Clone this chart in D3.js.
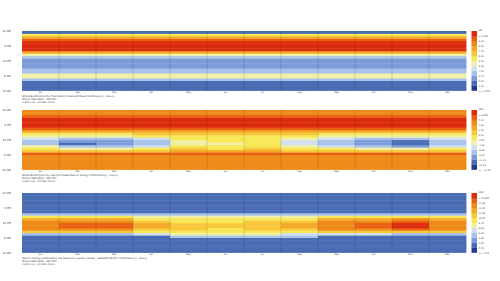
<!DOCTYPE html>
<html>
<head>
<meta charset="utf-8">
<script src="https://cdn.jsdelivr.net/npm/d3@7"></script>
<style>
    body { margin: 0; background: #fff; }
    svg text { font-family: "DejaVu Sans", sans-serif; fill: #444; }
</style>
</head>
<body>
<div id="chart"></div>
<script>

// Categories / ticks
const months = ["Jan", "Feb", "Mar", "Apr", "May", "Jun", "Jul", "Aug", "Sep", "Oct", "Nov", "Dec"]
const hourTicks = [0, 6, 12, 18, 24]
const hourTickLabels = ["12 AM", "6 AM", "12 PM", "6 PM", "12 AM"]

// Colour bins, low -> high
const palette = ["#26388a", "#4a6cb4", "#7b9bd9", "#a8c2ea", "#d0e0f2", "#f0f0a8",
                 "#f8e858", "#f8c83a", "#f4a828", "#ee8a18", "#ea5e12", "#dc2a0c"]

// Panel 1: facility demand [kW], hour 0..23 (same profile every month)
const demandByHour = [2.1, 2.0, 2.0, 2.2, 3.8, 5.4, 5.3, 3.7, 3.6, 3.0, 2.9, 2.9,
                      3.0, 3.8, 5.3, 7.8, 10.1, 10.3, 10.4, 10.2, 9.3, 7.7, 6.2, 2.3]
const demandRange = [0.95, 10.55]
const demandLegend = ["> 9.750", "9.35", "8.55", "7.75", "6.95", "6.15", "5.35", "4.55", "3.75", "2.95", "2.15", "<= 1.750"]

// Panel 2: net purchased electricity [kWh], one row per month, hour 0..23
const netByMonth = [
    [4.6, 4.5, 4.4, 4.5, 4.7, 5.2, 6.8, 0.4, -1.8, -4.2, -8.8, -9.1, -6.5, -4.0, -1.5, 2.7, 7.1, 9.4, 9.9, 10.0, 9.6, 7.3, 5.0, 4.7],
    [4.7, 4.6, 4.4, 4.4, 4.8, 5.3, 6.9, 0.2, -4.4, -9.3, -13.2, -11.0, -8.7, -4.1, -1.7, 2.6, 7.2, 9.5, 9.8, 10.1, 9.5, 7.4, 5.1, 4.8],
    [4.5, 4.4, 4.3, 4.4, 4.6, 5.0, 6.7, 0.5, -4.0, -8.9, -11.4, -10.9, -8.6, -3.9, -1.6, 2.8, 7.0, 9.3, 9.7, 9.9, 9.4, 7.2, 4.9, 4.6],
    [4.4, 4.3, 4.2, 4.3, 4.5, 5.1, 6.6, 0.6, -2.2, -6.4, -8.8, -8.5, -6.0, -1.9, 0.2, 2.9, 7.3, 9.4, 9.8, 9.9, 9.5, 7.1, 4.8, 4.5],
    [4.3, 4.2, 4.1, 4.2, 4.4, 5.0, 6.6, 2.4, 0.1, -1.9, -3.9, -4.4, -2.3, -1.7, 0.5, 3.0, 7.4, 9.6, 10.0, 10.2, 9.7, 7.3, 4.9, 4.5],
    [4.4, 4.3, 4.2, 4.3, 4.5, 5.2, 6.8, 2.2, -2.1, -2.4, -4.0, -2.6, -2.0, -1.4, 0.4, 3.1, 7.5, 9.7, 10.1, 10.3, 9.8, 7.4, 5.0, 4.6],
    [4.5, 4.4, 4.3, 4.4, 4.6, 5.3, 6.9, 2.5, 0.0, -1.6, -2.5, -2.7, -2.2, -1.3, 0.6, 3.2, 7.6, 9.8, 10.2, 10.3, 9.9, 7.5, 5.1, 4.7],
    [4.5, 4.4, 4.3, 4.4, 4.6, 5.2, 6.8, 0.3, -2.0, -4.5, -6.8, -7.1, -4.8, -2.1, 0.2, 3.0, 7.4, 9.6, 10.0, 10.1, 9.7, 7.3, 5.0, 4.6],
    [4.4, 4.3, 4.2, 4.3, 4.5, 5.1, 6.7, 0.3, -2.3, -6.7, -9.2, -9.0, -6.3, -4.1, -1.8, 2.8, 7.2, 9.4, 9.9, 10.0, 9.5, 7.2, 4.9, 4.5],
    [4.5, 4.4, 4.3, 4.4, 4.6, 5.1, 6.8, 0.1, -4.6, -9.4, -11.6, -11.3, -8.9, -4.2, -1.9, 2.7, 7.1, 9.4, 9.8, 10.0, 9.5, 7.2, 4.9, 4.6],
    [4.6, 4.5, 4.4, 4.5, 4.7, 5.2, 6.9, 0.2, -4.5, -11.5, -13.8, -13.6, -9.3, -4.3, -2.0, 2.6, 7.1, 9.4, 9.9, 10.0, 9.6, 7.3, 5.0, 4.7],
    [4.6, 4.5, 4.4, 4.5, 4.7, 5.2, 6.8, 0.4, -2.1, -6.2, -8.7, -8.9, -6.6, -4.0, -1.7, 2.7, 7.1, 9.4, 9.9, 10.0, 9.6, 7.3, 5.0, 4.7]
]
const netRange = [-17, 10.6]
const netLegend = ["> 8.300", "7.15", "4.85", "2.55", "0.25", "-2.05", "-4.35", "-6.65", "-8.95", "-11.25", "-13.55", "<= -14.70"]

// Panel 3: PV generator output [kWh], one row per month, hour 0..23
const pvByMonth = [
    [0, 0, 0, 0, 0, 0, 0.0, 3.6, 10.1, 13.1, 13.4, 13.3, 12.9, 11.4, 8.3, 3.4, 0.0, 0, 0, 0, 0, 0, 0, 0],
    [0, 0, 0, 0, 0, 0, 0.0, 3.8, 10.3, 13.6, 14.6, 14.9, 13.5, 11.7, 8.5, 3.9, 0.0, 0, 0, 0, 0, 0, 0, 0],
    [0, 0, 0, 0, 0, 0, 0.0, 3.9, 10.4, 13.7, 14.5, 14.8, 13.6, 11.8, 8.6, 3.7, 0.0, 0, 0, 0, 0, 0, 0, 0],
    [0, 0, 0, 0, 0, 0, 0.2, 5.1, 8.3, 10.2, 11.5, 11.8, 10.4, 8.6, 6.7, 3.5, 0.2, 0, 0, 0, 0, 0, 0, 0],
    [0, 0, 0, 0, 0, 0.1, 3.3, 6.8, 8.4, 9.8, 10.2, 10.1, 8.9, 8.2, 6.5, 3.4, 0.2, 0, 0, 0, 0, 0, 0, 0],
    [0, 0, 0, 0, 0, 0.2, 3.5, 6.9, 8.5, 8.8, 10.1, 10.0, 8.8, 8.3, 6.6, 3.5, 0.3, 0, 0, 0, 0, 0, 0, 0],
    [0, 0, 0, 0, 0, 0.1, 3.4, 6.7, 8.6, 9.9, 10.4, 10.3, 9.8, 8.4, 6.4, 3.3, 0.2, 0, 0, 0, 0, 0, 0, 0],
    [0, 0, 0, 0, 0, 0.0, 3.2, 5.3, 8.7, 10.3, 11.6, 11.9, 10.2, 8.5, 6.3, 3.2, 0.1, 0, 0, 0, 0, 0, 0, 0],
    [0, 0, 0, 0, 0, 0, 0.0, 5.0, 10.2, 13.2, 13.5, 13.6, 13.0, 11.5, 8.4, 3.3, 0.0, 0, 0, 0, 0, 0, 0, 0],
    [0, 0, 0, 0, 0, 0, 0.0, 4.9, 10.5, 13.5, 14.7, 14.9, 13.4, 11.6, 8.3, 3.2, 0.0, 0, 0, 0, 0, 0, 0, 0],
    [0, 0, 0, 0, 0, 0, 0.0, 3.7, 10.6, 14.9, 16.1, 16.3, 15.0, 13.3, 8.6, 3.4, 0.0, 0, 0, 0, 0, 0, 0, 0],
    [0, 0, 0, 0, 0, 0, 0.0, 3.5, 10.1, 12.9, 13.3, 13.2, 12.8, 11.3, 8.2, 3.3, 0.0, 0, 0, 0, 0, 0, 0, 0]
]
const pvRange = [-2, 17.2]
const pvLegend = ["> 15.600", "14.80", "13.20", "11.60", "10.00", "8.40", "6.80", "5.20", "3.60", "2.00", "0.40", "<= -0.40"]

const titleLine2 = "Tehran Mehrabad : IRN TMY"
const titleLine3 = "1 JAN 0:00 - 31 DEC 24:00"

const panels = [
    { top: 31, grid: months.map(() => demandByHour), range: demandRange, legend: demandLegend, unit: "kW",
      title: "Whole Building:Facility Total Electric Demand Power [kW](Hourly) : Hourly" },
    { top: 110, grid: netByMonth, range: netRange, legend: netLegend, unit: "kWh",
      title: "Whole Building:Facility Net Purchased Electric Energy [kWh](Hourly) : Hourly" },
    { top: 193, grid: pvByMonth, range: pvRange, legend: pvLegend, unit: "kWh",
      title: "Electric energy produced by the generator system named : GENERATOR/PV1 [kWh](Hourly) : Hourly" }
]

// Dimensions
const W = 500, H = 281
const left = 22, right = 466
const plotH = 59.5
const legX = 471.5, legW = 5.5

const svg = d3.select("#chart").append("svg")
    .attr("width", W).attr("height", H)

const x = d3.scaleBand().domain(months).range([left, right])

panels.forEach(function (p) {
    const bottom = p.top + plotH
    const y = d3.scaleLinear().domain([0, 24]).range([bottom, p.top])
    const color = d3.scaleQuantize().domain(p.range).range(palette)
    const g = svg.append("g")

    // cells
    const cells = []
    p.grid.forEach(function (row, m) {
        row.forEach(function (v, h) { cells.push({ m: months[m], h: h, v: v }) })
    })
    g.selectAll("rect.cell").data(cells).enter().append("rect")
        .attr("class", "cell")
        .attr("x", d => x(d.m))
        .attr("y", d => y(d.h + 1))
        .attr("width", x.bandwidth() + 0.4)
        .attr("height", d => y(d.h) - y(d.h + 1) + 0.4)
        .attr("fill", d => color(d.v))

    // month separators
    g.selectAll("line.sep").data(months.slice(1)).enter().append("line")
        .attr("x1", d => x(d)).attr("x2", d => x(d))
        .attr("y1", p.top).attr("y2", bottom)
        .attr("stroke", "rgba(20,25,50,0.18)")
        .attr("stroke-width", 0.8)

    // x axis
    const xa = g.append("g")
        .attr("transform", "translate(0," + bottom + ")")
        .call(d3.axisBottom(x).tickSize(0).tickPadding(0.6))
    xa.select(".domain").remove()
    xa.selectAll("text").attr("font-size", 2.4).style("font-family", "DejaVu Sans").attr("fill", "#444")

    // y axis
    const ya = g.append("g")
        .attr("transform", "translate(" + left + ",0)")
        .call(d3.axisLeft(y).tickValues(hourTicks).tickFormat((d, i) => hourTickLabels[i]).tickSize(0).tickPadding(11))
    ya.select(".domain").remove()
    ya.selectAll("text").attr("font-size", 2.8).style("font-family", "DejaVu Sans").attr("fill", "#444")

    // legend
    const bh = plotH / palette.length
    g.selectAll("rect.leg").data(palette).enter().append("rect")
        .attr("class", "leg")
        .attr("x", legX)
        .attr("y", (c, i) => bottom - (i + 1) * bh)
        .attr("width", legW)
        .attr("height", bh + 0.3)
        .attr("fill", c => c)
    g.selectAll("text.leg").data(p.legend).enter().append("text")
        .attr("class", "leg")
        .attr("x", legX + legW + 1.5)
        .attr("y", (t, i) => p.top + (i + 0.5) * bh + 3.8)
        .attr("font-size", 2.3)
        .text(t => t)
    g.append("text")
        .attr("x", legX + legW + 1.5)
        .attr("y", p.top - 0.3)
        .attr("font-size", 2.3)
        .text(p.unit)

    // title lines
    const lines = [p.title, titleLine2, titleLine3]
    g.selectAll("text.title").data(lines).enter().append("text")
        .attr("class", "title")
        .attr("x", left)
        .attr("y", (t, i) => bottom + 6.3 + i * 3.3)
        .attr("font-size", 2.5)
        .text(t => t)
})
</script>
</body>
</html>
